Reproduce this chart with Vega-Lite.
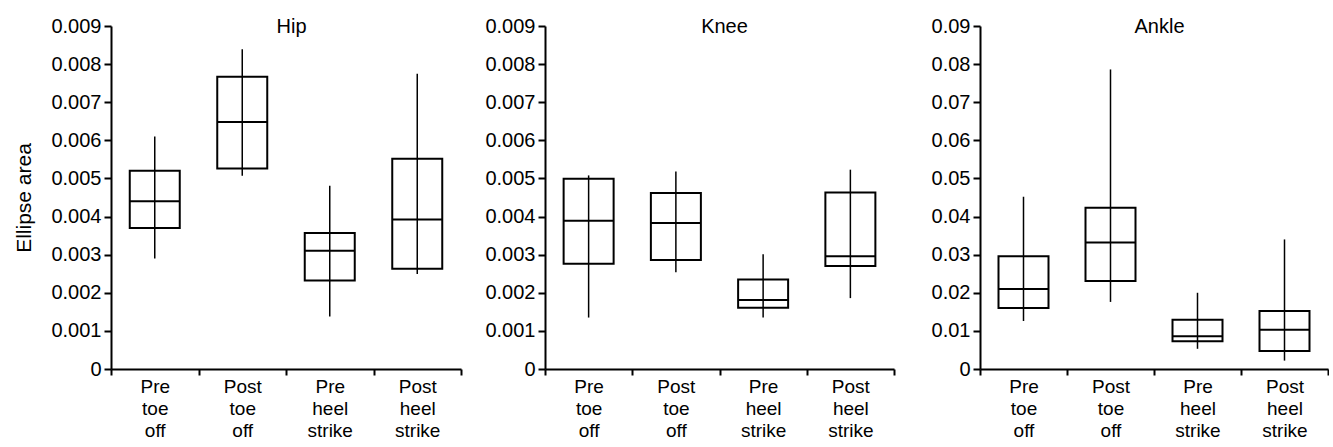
{
  "$schema": "https://vega.github.io/schema/vega-lite/v6.json",
  "padding": {"left": 13, "top": 16, "right": 0, "bottom": 0},
  "background": "white",
  "spacing": 10,
  "config": {
    "view": {"stroke": null},
    "font": "Liberation Sans",
    "axis": {
      "domainColor": "black", "tickColor": "black", "labelColor": "black", "titleColor": "black",
      "domainWidth": 2, "tickWidth": 2,
      "labelFont": "Liberation Sans", "titleFont": "Liberation Sans",
      "labelFontSize": 20, "titleFontSize": 20, "titleFontWeight": "normal", "grid": false,
      "labelOverlap": false
    }
  },
  "data": {"values": [
    {"joint": "Hip", "phase": "Pre toe off", "lo": 0.0029, "q1": 0.0037, "med": 0.0044, "q3": 0.0052, "hi": 0.0061},
    {"joint": "Hip", "phase": "Post toe off", "lo": 0.00507, "q1": 0.00526, "med": 0.00648, "q3": 0.00767, "hi": 0.00839},
    {"joint": "Hip", "phase": "Pre heel strike", "lo": 0.00138, "q1": 0.00232, "med": 0.0031, "q3": 0.00357, "hi": 0.00481},
    {"joint": "Hip", "phase": "Post heel strike", "lo": 0.00249, "q1": 0.00263, "med": 0.00392, "q3": 0.00552, "hi": 0.00775},
    {"joint": "Knee", "phase": "Pre toe off", "lo": 0.00135, "q1": 0.00276, "med": 0.00389, "q3": 0.00499, "hi": 0.00508},
    {"joint": "Knee", "phase": "Post toe off", "lo": 0.00254, "q1": 0.00286, "med": 0.00383, "q3": 0.00462, "hi": 0.00518},
    {"joint": "Knee", "phase": "Pre heel strike", "lo": 0.00135, "q1": 0.00161, "med": 0.00181, "q3": 0.00235, "hi": 0.00301},
    {"joint": "Knee", "phase": "Post heel strike", "lo": 0.00186, "q1": 0.0027, "med": 0.00296, "q3": 0.00463, "hi": 0.00523},
    {"joint": "Ankle", "phase": "Pre toe off", "lo": 0.0126, "q1": 0.016, "med": 0.021, "q3": 0.0296, "hi": 0.0452},
    {"joint": "Ankle", "phase": "Post toe off", "lo": 0.0176, "q1": 0.0231, "med": 0.0332, "q3": 0.0423, "hi": 0.0786},
    {"joint": "Ankle", "phase": "Pre heel strike", "lo": 0.0053, "q1": 0.0073, "med": 0.0086, "q3": 0.0129, "hi": 0.02},
    {"joint": "Ankle", "phase": "Post heel strike", "lo": 0.0022, "q1": 0.0047, "med": 0.0103, "q3": 0.0152, "hi": 0.034}
  ]},
  "hconcat": [
    {
      "width": 350, "height": 343,
      "transform": [{"filter": "datum.joint === 'Hip'"}],
      "encoding": {"x": {"field": "phase", "type": "nominal", "title": "Hip",
        "sort": ["Pre toe off", "Post toe off", "Pre heel strike", "Post heel strike"],
        "scale": {"paddingInner": 0, "paddingOuter": 0},
        "axis": {"labelAngle": 0, "labelExpr": "split(datum.label, ' ')", "labelFontSize": 19, "labelLineHeight": 22, "tickBand": "extent", "tickSize": 6, "labelPadding": 2,
          "titleAngle": 0, "titleX": 180, "titleY": -337, "titleBaseline": "alphabetic", "titleAlign": "center"}}},
      "layer": [
        {"mark": {"type": "rule", "color": "black", "strokeWidth": 1.5},
         "encoding": {"y": {"field": "lo", "type": "quantitative", "title": "Ellipse area",
            "scale": {"domain": [0, 0.009], "nice": false},
            "axis": {"values": [0, 0.001, 0.002, 0.003, 0.004, 0.005, 0.006, 0.007, 0.008, 0.009], "format": ".3~f", "tickSize": 7, "labelPadding": 3, "titlePadding": 16, "titleFontSize": 21, "labelOverlap": false}},
           "y2": {"field": "hi"}}},
        {"mark": {"type": "bar", "width": 50, "fill": "transparent", "stroke": "black", "strokeWidth": 2},
         "encoding": {"y": {"field": "q1", "type": "quantitative", "title": "Ellipse area",
            "axis": {"values": [0, 0.001, 0.002, 0.003, 0.004, 0.005, 0.006, 0.007, 0.008, 0.009], "format": ".3~f", "tickSize": 7, "labelPadding": 3, "titlePadding": 16, "titleFontSize": 21, "labelOverlap": false}}, "y2": {"field": "q3"}}},
        {"mark": {"type": "tick", "size": 50, "thickness": 2, "color": "black", "opacity": 1},
         "encoding": {"y": {"field": "med", "type": "quantitative", "title": "Ellipse area",
            "axis": {"values": [0, 0.001, 0.002, 0.003, 0.004, 0.005, 0.006, 0.007, 0.008, 0.009], "format": ".3~f", "tickSize": 7, "labelPadding": 3, "titlePadding": 16, "titleFontSize": 21, "labelOverlap": false}}}}
      ]
    },
    {
      "width": 349, "height": 343,
      "transform": [{"filter": "datum.joint === 'Knee'"}],
      "encoding": {"x": {"field": "phase", "type": "nominal", "title": "Knee",
        "sort": ["Pre toe off", "Post toe off", "Pre heel strike", "Post heel strike"],
        "scale": {"paddingInner": 0, "paddingOuter": 0},
        "axis": {"labelAngle": 0, "labelExpr": "split(datum.label, ' ')", "labelFontSize": 19, "labelLineHeight": 22, "tickBand": "extent", "tickSize": 6, "labelPadding": 2,
          "titleAngle": 0, "titleX": 179, "titleY": -337, "titleBaseline": "alphabetic", "titleAlign": "center"}}},
      "layer": [
        {"mark": {"type": "rule", "color": "black", "strokeWidth": 1.5},
         "encoding": {"y": {"field": "lo", "type": "quantitative", "title": null,
            "scale": {"domain": [0, 0.009], "nice": false},
            "axis": {"values": [0, 0.001, 0.002, 0.003, 0.004, 0.005, 0.006, 0.007, 0.008, 0.009], "format": ".3~f", "tickSize": 7, "labelPadding": 3, "minExtent": 73, "maxExtent": 73, "labelOverlap": false}},
           "y2": {"field": "hi"}}},
        {"mark": {"type": "bar", "width": 50, "fill": "transparent", "stroke": "black", "strokeWidth": 2},
         "encoding": {"y": {"field": "q1", "type": "quantitative", "title": null,
            "axis": {"values": [0, 0.001, 0.002, 0.003, 0.004, 0.005, 0.006, 0.007, 0.008, 0.009], "format": ".3~f", "tickSize": 7, "labelPadding": 3, "minExtent": 73, "maxExtent": 73, "labelOverlap": false}}, "y2": {"field": "q3"}}},
        {"mark": {"type": "tick", "size": 50, "thickness": 2, "color": "black", "opacity": 1},
         "encoding": {"y": {"field": "med", "type": "quantitative", "title": null,
            "axis": {"values": [0, 0.001, 0.002, 0.003, 0.004, 0.005, 0.006, 0.007, 0.008, 0.009], "format": ".3~f", "tickSize": 7, "labelPadding": 3, "minExtent": 73, "maxExtent": 73, "labelOverlap": false}}}}
      ]
    },
    {
      "width": 348, "height": 343,
      "transform": [{"filter": "datum.joint === 'Ankle'"}],
      "encoding": {"x": {"field": "phase", "type": "nominal", "title": "Ankle",
        "sort": ["Pre toe off", "Post toe off", "Pre heel strike", "Post heel strike"],
        "scale": {"paddingInner": 0, "paddingOuter": 0},
        "axis": {"labelAngle": 0, "labelExpr": "split(datum.label, ' ')", "labelFontSize": 19, "labelLineHeight": 22, "tickBand": "extent", "tickSize": 6, "labelPadding": 2,
          "titleAngle": 0, "titleX": 179, "titleY": -337, "titleBaseline": "alphabetic", "titleAlign": "center"}}},
      "layer": [
        {"mark": {"type": "rule", "color": "black", "strokeWidth": 1.5},
         "encoding": {"y": {"field": "lo", "type": "quantitative", "title": null,
            "scale": {"domain": [0, 0.09], "nice": false},
            "axis": {"values": [0, 0.01, 0.02, 0.03, 0.04, 0.05, 0.06, 0.07, 0.08, 0.09], "format": ".2~f", "tickSize": 7, "labelPadding": 3, "minExtent": 75, "maxExtent": 75, "labelOverlap": false}},
           "y2": {"field": "hi"}}},
        {"mark": {"type": "bar", "width": 50, "fill": "transparent", "stroke": "black", "strokeWidth": 2},
         "encoding": {"y": {"field": "q1", "type": "quantitative", "title": null,
            "axis": {"values": [0, 0.01, 0.02, 0.03, 0.04, 0.05, 0.06, 0.07, 0.08, 0.09], "format": ".2~f", "tickSize": 7, "labelPadding": 3, "minExtent": 75, "maxExtent": 75, "labelOverlap": false}}, "y2": {"field": "q3"}}},
        {"mark": {"type": "tick", "size": 50, "thickness": 2, "color": "black", "opacity": 1},
         "encoding": {"y": {"field": "med", "type": "quantitative", "title": null,
            "axis": {"values": [0, 0.01, 0.02, 0.03, 0.04, 0.05, 0.06, 0.07, 0.08, 0.09], "format": ".2~f", "tickSize": 7, "labelPadding": 3, "minExtent": 75, "maxExtent": 75, "labelOverlap": false}}}}
      ]
    }
  ]
}
